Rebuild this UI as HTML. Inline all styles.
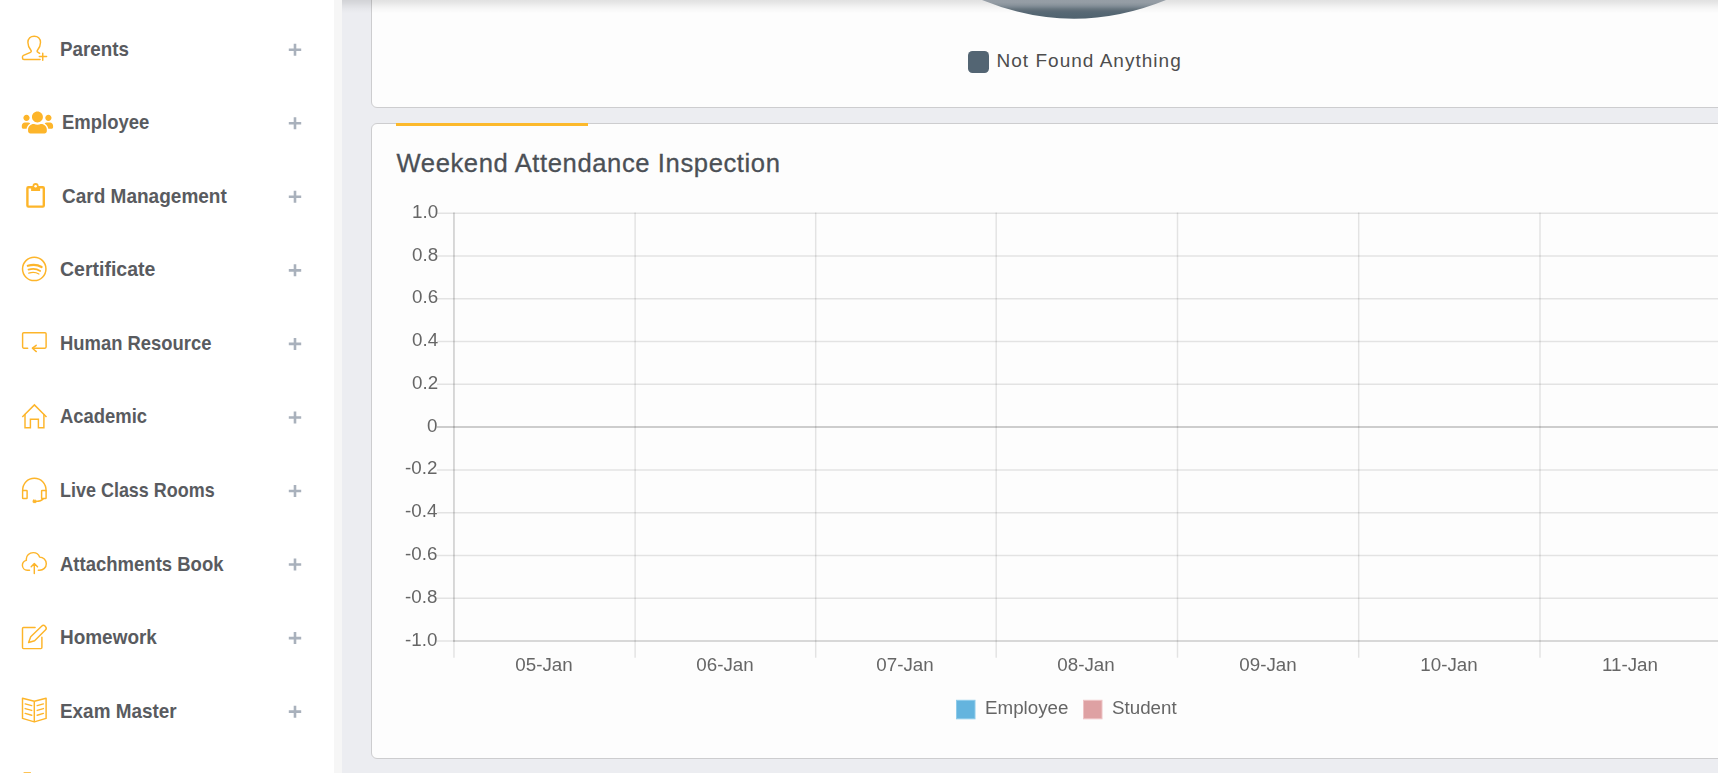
<!DOCTYPE html><html><head><meta charset="utf-8"><title>Dashboard</title><style>
*{box-sizing:border-box;margin:0;padding:0}
html,body{width:1718px;height:773px;overflow:hidden}
body{background:#ecedf1;font-family:"Liberation Sans",sans-serif;position:relative}
#side{position:absolute;left:0;top:0;width:334px;height:773px;background:#fff}
#band{position:absolute;left:334px;top:0;width:8px;height:773px;background:#f6f6f6}
.mi{position:absolute;transform-origin:0 50%;font-weight:bold;font-size:19.8px;line-height:22px;color:#595b5f;white-space:nowrap}
.card{position:absolute;left:371px;width:1400px;background:#fdfdfd;border:1px solid #cdcdcf;border-radius:6px}
#c1{top:-40px;height:148px}
#c2{top:123px;height:636px}
#bar{position:absolute;left:396px;top:123px;width:192px;height:3px;background:#fcb92c}
#title{position:absolute;left:396.5px;top:147.2px;font-size:25.6px;line-height:32px;color:#4b5056;white-space:nowrap;letter-spacing:.6px;-webkit-text-stroke:.3px #4b5056}
#shadow{position:absolute;left:342px;top:0;width:1376px;height:16px;background:linear-gradient(to bottom,rgba(0,0,0,.11) 0,rgba(0,0,0,.088) 3px,rgba(0,0,0,.052) 6px,rgba(0,0,0,.022) 9px,rgba(0,0,0,.006) 12px,rgba(0,0,0,0) 14px)}
#nf{position:absolute;left:996.5px;top:48.7px;font-size:19px;line-height:24px;color:#4d4d4d;white-space:nowrap;letter-spacing:1.02px}
#nfb{position:absolute;left:967.5px;top:51px;width:21.5px;height:21.5px;border-radius:4.5px;background:#536573}
.yl,.xl,.lg{will-change:transform}
.yl{position:absolute;right:1280.3px;font-size:18.75px;line-height:20px;color:#666;white-space:nowrap;text-align:right}
.xl{position:absolute;width:120px;text-align:center;font-size:18.75px;line-height:20px;color:#666;white-space:nowrap;top:655px}
.lg{position:absolute;font-size:18.75px;line-height:20px;color:#666;top:698px;white-space:nowrap}
svg{position:absolute;left:0;top:0}
</style></head><body>
<div id="side"></div><div id="band"></div>
<div class="card" id="c1"></div><div class="card" id="c2"></div>
<div id="bar"></div><div id="title">Weekend Attendance Inspection</div>
<div id="nfb"></div><div id="nf">Not Found Anything</div>
<div id="shadow"></div>
<svg id="pie" width="1718" height="30" viewBox="0 0 1718 30"><defs><linearGradient id="pg" x1="0" y1="0" x2="0" y2="19" gradientUnits="userSpaceOnUse"><stop offset="0" stop-color="#969ea6"/><stop offset="0.14" stop-color="#949ca4"/><stop offset="0.26" stop-color="#8a949c"/><stop offset="0.37" stop-color="#7a8690"/><stop offset="0.47" stop-color="#68767f"/><stop offset="0.58" stop-color="#5c6b77"/><stop offset="0.68" stop-color="#566874"/><stop offset="0.79" stop-color="#546672"/><stop offset="1" stop-color="#50626f"/></linearGradient></defs><path d="M982 -2V0Q1074 37.4 1166 0V-2Z" fill="url(#pg)"/></svg>
<svg id="chart" width="1718" height="773" viewBox="0 0 1718 773"><line x1="437" y1="213.25" x2="1718" y2="213.25" stroke="rgba(0,0,0,0.1)" stroke-width="1.5"/><line x1="437" y1="256.02" x2="1718" y2="256.02" stroke="rgba(0,0,0,0.1)" stroke-width="1.5"/><line x1="437" y1="298.80" x2="1718" y2="298.80" stroke="rgba(0,0,0,0.1)" stroke-width="1.5"/><line x1="437" y1="341.57" x2="1718" y2="341.57" stroke="rgba(0,0,0,0.1)" stroke-width="1.5"/><line x1="437" y1="384.35" x2="1718" y2="384.35" stroke="rgba(0,0,0,0.1)" stroke-width="1.5"/><line x1="437" y1="427.12" x2="1718" y2="427.12" stroke="rgba(0,0,0,0.25)" stroke-width="1.5"/><line x1="437" y1="469.90" x2="1718" y2="469.90" stroke="rgba(0,0,0,0.1)" stroke-width="1.5"/><line x1="437" y1="512.67" x2="1718" y2="512.67" stroke="rgba(0,0,0,0.1)" stroke-width="1.5"/><line x1="437" y1="555.45" x2="1718" y2="555.45" stroke="rgba(0,0,0,0.1)" stroke-width="1.5"/><line x1="437" y1="598.22" x2="1718" y2="598.22" stroke="rgba(0,0,0,0.1)" stroke-width="1.5"/><line x1="437" y1="641.00" x2="1718" y2="641.00" stroke="rgba(0,0,0,0.1)" stroke-width="1.5"/><line x1="453.95" y1="212.5" x2="453.95" y2="657.8" stroke="rgba(0,0,0,0.1)" stroke-width="1.5"/><line x1="635.10" y1="212.5" x2="635.10" y2="657.8" stroke="rgba(0,0,0,0.1)" stroke-width="1.5"/><line x1="815.70" y1="212.5" x2="815.70" y2="657.8" stroke="rgba(0,0,0,0.1)" stroke-width="1.5"/><line x1="996.20" y1="212.5" x2="996.20" y2="657.8" stroke="rgba(0,0,0,0.1)" stroke-width="1.5"/><line x1="1177.50" y1="212.5" x2="1177.50" y2="657.8" stroke="rgba(0,0,0,0.1)" stroke-width="1.5"/><line x1="1358.70" y1="212.5" x2="1358.70" y2="657.8" stroke="rgba(0,0,0,0.1)" stroke-width="1.5"/><line x1="1540.00" y1="212.5" x2="1540.00" y2="657.8" stroke="rgba(0,0,0,0.1)" stroke-width="1.5"/><line x1="453.95" y1="212.5" x2="453.95" y2="641.75" stroke="rgba(0,0,0,0.1)" stroke-width="1.5"/><line x1="453.2" y1="641.0" x2="1718" y2="641.0" stroke="rgba(0,0,0,0.1)" stroke-width="1.5"/><rect x="956.5" y="700.3" width="18.5" height="18.5" fill="#64b4de" stroke="#8ecbea" stroke-width="1"/><rect x="1083.5" y="700.3" width="18.5" height="18.5" fill="#dea1a3" stroke="#eec3c5" stroke-width="1"/></svg>
<div class="yl" style="top:202px">1.0</div>
<div class="yl" style="top:245px">0.8</div>
<div class="yl" style="top:287px">0.6</div>
<div class="yl" style="top:330px">0.4</div>
<div class="yl" style="top:373px">0.2</div>
<div class="yl" style="top:416px">0</div>
<div class="yl" style="top:458px">-0.2</div>
<div class="yl" style="top:501px">-0.4</div>
<div class="yl" style="top:544px">-0.6</div>
<div class="yl" style="top:587px">-0.8</div>
<div class="yl" style="top:630px">-1.0</div>
<div class="xl" style="left:483.9px">05-Jan</div>
<div class="xl" style="left:664.8px">06-Jan</div>
<div class="xl" style="left:845.4px">07-Jan</div>
<div class="xl" style="left:1026.2px">08-Jan</div>
<div class="xl" style="left:1207.5px">09-Jan</div>
<div class="xl" style="left:1388.8px">10-Jan</div>
<div class="xl" style="left:1569.9px">11-Jan</div>
<div class="lg" style="left:985px">Employee</div><div class="lg" style="left:1111.5px">Student</div>
<div class="mi" id="mi0" style="left:59.80px;top:37.65px;transform:scaleX(0.9493)">Parents</div>
<div class="mi" id="mi1" style="left:62.20px;top:111.20px;transform:scaleX(0.9348)">Employee</div>
<div class="mi" id="mi2" style="left:61.90px;top:184.75px;transform:scaleX(0.9611)">Card Management</div>
<div class="mi" id="mi3" style="left:60.00px;top:258.30px;transform:scaleX(0.9853)">Certificate</div>
<div class="mi" id="mi4" style="left:60.00px;top:331.85px;transform:scaleX(0.9305)">Human Resource</div>
<div class="mi" id="mi5" style="left:59.50px;top:405.40px;transform:scaleX(0.9312)">Academic</div>
<div class="mi" id="mi6" style="left:60.00px;top:478.95px;transform:scaleX(0.9078)">Live Class Rooms</div>
<div class="mi" id="mi7" style="left:59.50px;top:552.50px;transform:scaleX(0.9357)">Attachments Book</div>
<div class="mi" id="mi8" style="left:60.00px;top:626.05px;transform:scaleX(0.9580)">Homework</div>
<div class="mi" id="mi9" style="left:60.00px;top:699.60px;transform:scaleX(0.9554)">Exam Master</div>
<svg id="icons" width="334" height="773" viewBox="0 0 334 773" fill="none" stroke="#fdb52a" stroke-width="1.45" stroke-linecap="round" stroke-linejoin="round">
<!-- parents: user-follow -->
<path d="M40.1 59.5H24a1.5 1.5 0 0 1-1.5-1.5v-1.2c0-.7.4-1.2 1-1.5l7-3c.9-.4 1-1.300.4-2.100C28.700 47.500 27.900 45.100 27.900 42.500 27.900 38.600 30.600 36.200 34.200 36.200s6.300 2.400 6.300 6.300c0 2.600-.8 5-3 7.700-.6.800-.5 1.500.3 2l1.800 1.100"/>
<path d="M39.300 56.500h7.300M42.750 53.200v7.100"/>
<!-- employee: FA users -->
<g transform="translate(21.800 110.000) scale(0.04890)" fill="#fdb52a" stroke="none"><path d="M96 224c35.300 0 64-28.700 64-64s-28.700-64-64-64-64 28.700-64 64 28.700 64 64 64zm448 0c35.300 0 64-28.700 64-64s-28.700-64-64-64-64 28.700-64 64 28.700 64 64 64zm32 32h-64c-17.600 0-33.500 7.100-45.100 18.600 40.300 22.100 68.900 62 75.100 109.400h66c17.700 0 32-14.300 32-32v-32c0-35.300-28.700-64-64-64zm-256 0c61.900 0 112-50.100 112-112S381.900 32 320 32 208 82.100 208 144s50.100 112 112 112zm76.800 32h-8.300c-20.800 10-43.900 16-68.500 16s-47.600-6-68.500-16h-8.300C179.600 288 128 339.600 128 403.200V432c0 26.500 21.500 48 48 48h288c26.500 0 48-21.500 48-48v-28.800c0-63.600-51.600-115.200-115.200-115.200zm-223.700-13.400C161.500 263.100 145.600 256 128 256H64c-35.300 0-64 28.700-64 64v32c0 17.700 14.300 32 32 32h65.900c6.300-47.400 34.900-87.300 75.200-109.400z"/></g>
<!-- card management: clipboard -->
<g stroke="none" fill="#fdb52a"><path fill-rule="evenodd" d="M28.400 186.100h14.400a2.200 2.200 0 0 1 2.200 2.200v17.300a2.200 2.200 0 0 1-2.200 2.200H28.400a2.200 2.200 0 0 1-2.200-2.200v-17.300a2.200 2.200 0 0 1 2.200-2.200zM28.600 188.400v17h14v-17h-2.500v2.700h-9v-2.700z"/><circle cx="35.600" cy="186.050" r="3.050"/><circle cx="35.600" cy="186.200" r="1.300" fill="#fff"/></g>
<!-- certificate: spotify -->
<circle cx="34.250" cy="268.900" r="11.700" stroke-width="1.500"/>
<path d="M27.800 265.800c4.800-1.400 9.900-1.100 13.800 1.200" stroke-width="2.200"/>
<path d="M28.500 269.600c4-1.200 8.400-.8 11.700 1.300" stroke-width="1.800"/>
<path d="M28.800 273.100c3.600-1.100 7.300-.8 10.100.9" stroke-width="1.400"/>
<!-- human resource: loop -->
<path d="M27.700 348.150h-4a1.100 1.100 0 0 1-1.100-1.100v-13.250a1.100 1.100 0 0 1 1.100-1.100h21.300a1.100 1.100 0 0 1 1.100 1.100v13.250a1.100 1.100 0 0 1-1.100 1.100H32.800"/>
<path d="M36.200 345.300l-3.800 2.900 3.900 3.400"/>
<!-- academic: home -->
<path d="M22.300 417L34.400 404.900 46.500 417" stroke-linecap="butt" stroke-linejoin="miter"/>
<path d="M25 414.500v13.300h5.400v-8.600h8v8.600h5.500v-13.300" stroke-linejoin="miter"/>
<!-- live class rooms: earphones-alt -->
<path d="M22.600 490.800c0-7.200 5.100-12.500 11.750-12.500s11.750 5.300 11.750 12.500"/>
<rect x="22.600" y="490.400" width="4.500" height="8.100" rx=".600"/>
<rect x="41.600" y="490.400" width="4.500" height="8.100" rx=".600"/>
<path d="M43.300 498.700c-1.400 1.600-3.800 2.600-7 2.700"/>
<rect x="33.100" y="500.200" width="3.000" height="2.400" rx=".5" fill="#fdb52a" stroke-width="1"/>
<!-- attachments book: cloud upload -->
<path d="M29.500 570.300h-2.200c-2.700 0-4.900-2.200-4.900-5 0-2.400 1.700-4.400 4-4.900-.1-.5-.1-.9-.1-1.300 0-3.600 3.100-6.500 6.900-6.500 3 0 5.500 1.800 6.400 4.500 3.700.1 6.700 3 6.700 6.600 0 3.700-3 6.600-6.700 6.600h-1.300"/>
<path d="M34.300 573.600v-9.800M31.200 566.700l3.100-3.100 3.200 3.100"/>
<!-- homework: note -->
<path d="M35.100 627.500H23.500a1 1 0 0 0-1 1v19.100a1 1 0 0 0 1 1h17.400a1 1 0 0 0 1-1v-10.300"/>
<path d="M28.600 642.500l2.100-5.700 10.900-10.600a2.550 2.550 0 0 1 3.600 0l.2.200a2.550 2.550 0 0 1 0 3.600L34.600 640.700z"/>
<!-- exam master: book-open -->
<path d="M22.500 698.200l11.800 3.100 11.800-3.100v20.200l-11.800 3.500-11.800-3.500zM34.300 701.300v20.600"/>
<path d="M25.200 703.900l6.500 1.700M25.200 708.600l6.500 1.800M25.200 713.400l6.500 1.800M43.400 703.900l-6.200 1.700M43.400 708.600l-6.200 1.800M43.400 713.400l-6.200 1.800"/>
<!-- partial next icon -->
<rect x="23.600" y="772.200" width="7.300" height="2" fill="#fdb52a" stroke="none"/>
<!-- plus signs -->
<g stroke="#a9b1bc" stroke-width="2.6" stroke-linecap="butt">
<path d="M288.8 49.70h12.4M295 43.70v12"/>
<path d="M288.8 123.25h12.4M295 117.25v12"/>
<path d="M288.8 196.80h12.4M295 190.80v12"/>
<path d="M288.8 270.35h12.4M295 264.35v12"/>
<path d="M288.8 343.90h12.4M295 337.90v12"/>
<path d="M288.8 417.45h12.4M295 411.45v12"/>
<path d="M288.8 491.00h12.4M295 485.00v12"/>
<path d="M288.8 564.55h12.4M295 558.55v12"/>
<path d="M288.8 638.10h12.4M295 632.10v12"/>
<path d="M288.8 711.65h12.4M295 705.65v12"/>
</g>
</svg>

</body></html>
